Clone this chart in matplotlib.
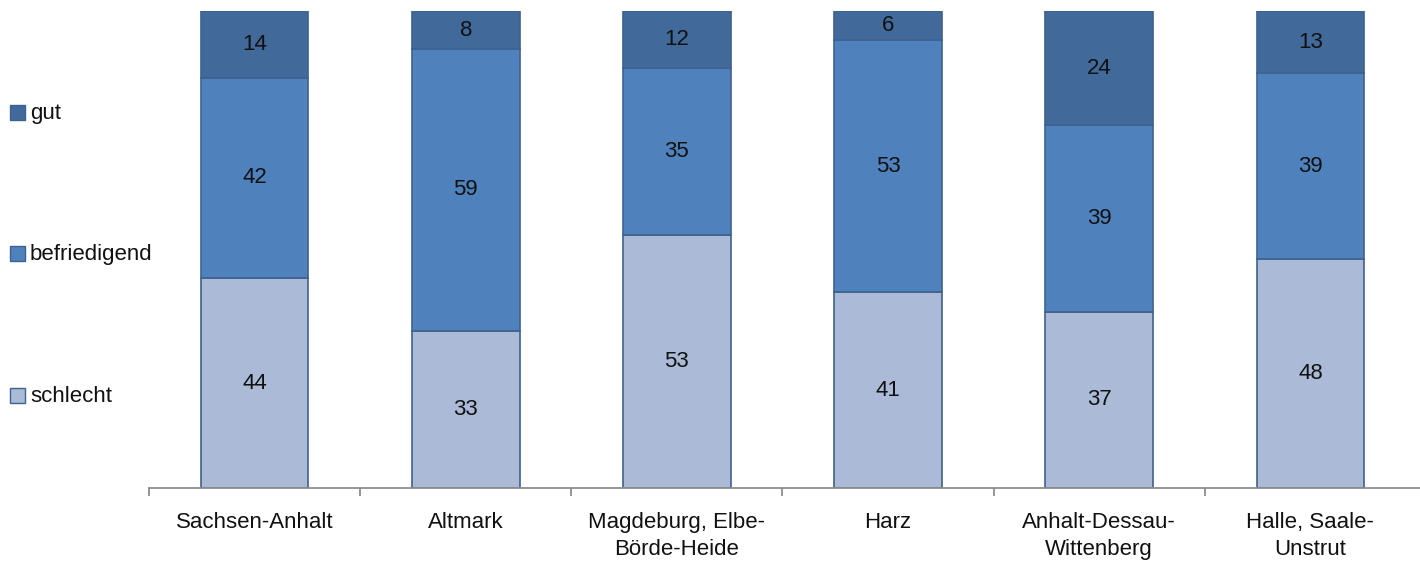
import matplotlib.pyplot as plt
import matplotlib.patches as mpatches
import numpy as np

plt.rcParams['font.family'] = ['Liberation Sans', 'DejaVu Sans']

regions = ["Sachsen-Anhalt", "Altmark", "Magdeburg, Elbe-\nBörde-Heide", "Harz",
           "Anhalt-Dessau-\nWittenberg", "Halle, Saale-\nUnstrut"]
schlecht = [44, 33, 53, 41, 37, 48]
befriedigend = [42, 59, 35, 53, 39, 39]
gut = [14, 8, 12, 6, 24, 13]

series = [("schlecht", schlecht, "#AABAD7"),
          ("befriedigend", befriedigend, "#4F81BD"),
          ("gut", gut, "#41699A")]
edge = "#3E6290"

fig = plt.figure(figsize=(14.2, 5.65), dpi=100)
ax = fig.add_axes([149 / 1420, 1 - 488 / 565, (1420 - 149) / 1420, (488 - 11) / 565])

x = np.arange(len(regions))
bottom = np.zeros(len(regions))
for name, vals, col in series:
    vals = np.array(vals, dtype=float)
    ax.bar(x, vals, bottom=bottom, width=0.51, color=col, edgecolor=edge, linewidth=1.2, zorder=2)
    for xi, b, v in zip(x, bottom, vals):
        ax.text(xi, b + v / 2, f"{int(v)}", ha="center", va="center", fontsize=16, color="#111111", zorder=3)
    bottom += vals

step = (1416 - 149) / len(regions)
ax.set_xlim(-0.5, -0.5 + (1420 - 149) / step)
ax.set_ylim(0, 100)
ax.set_yticks([])
for s in ["top", "right", "left"]:
    ax.spines[s].set_visible(False)
ax.spines["bottom"].set_color("#8C8C8C")
ax.spines["bottom"].set_linewidth(1.3)

# category separators as minor ticks, labels centred under bars
ax.set_xticks(x)
ax.set_xticklabels(regions, fontsize=16, color="#111111", linespacing=1.42)
ax.tick_params(axis="x", which="major", length=0, pad=17)
ax.set_xticks(np.arange(0, len(regions)) - 0.5, minor=True)
ax.tick_params(axis="x", which="minor", length=6, width=1.3, color="#8C8C8C")

# legend on the left, spread over the plot height
legend_rows = [("gut", "#41699A", 113), ("befriedigend", "#4F81BD", 254), ("schlecht", "#AABAD7", 396)]
for name, col, ypx in legend_rows:
    fig.patches.append(mpatches.Rectangle((10 / 1420, 1 - (ypx + 7) / 565), 15 / 1420, 15 / 565,
                                          transform=fig.transFigure, facecolor=col,
                                          edgecolor=edge, linewidth=1))
    fig.text(30 / 1420, 1 - ypx / 565, name, ha="left", va="center", fontsize=16, color="#111111")

fig.savefig("out.png", dpi=100)
